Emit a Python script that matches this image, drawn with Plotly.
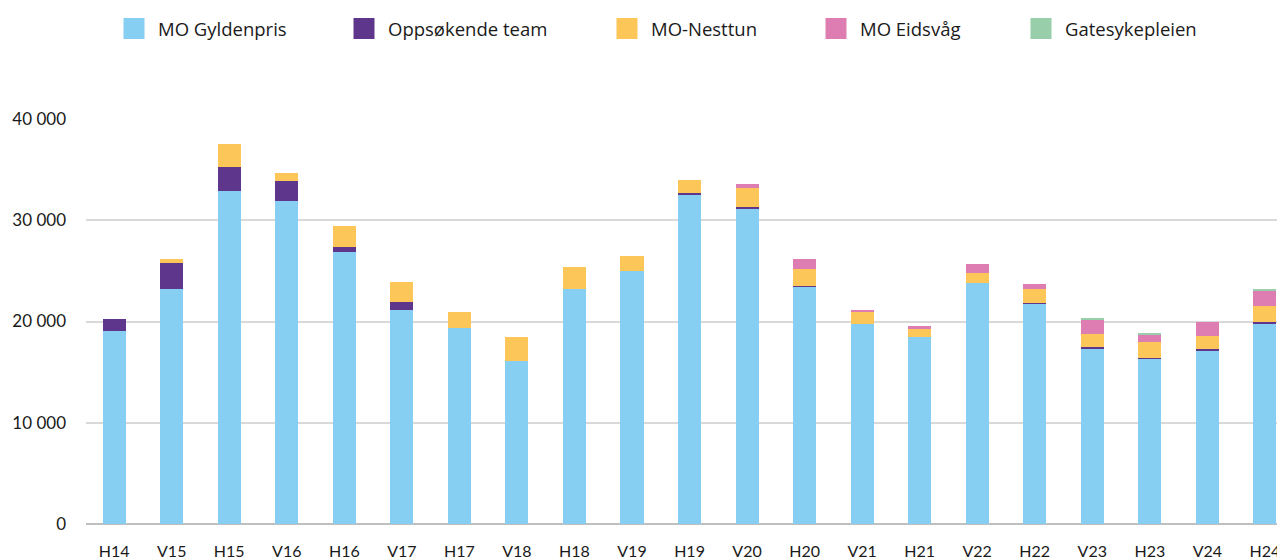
import plotly.graph_objects as go

categories = ["H14", "V15", "H15", "V16", "H16", "V17", "H17", "V18", "H18", "V19", "H19",
              "V20", "H20", "V21", "H21", "V22", "H22", "V23", "H23", "V24", "H24"]

mo_gyldenpris = [19100, 23200, 32900, 31900, 26900, 21100, 19400, 16050, 23200, 24950, 32550,
                 31200, 23450, 19800, 18500, 23800, 21750, 17300, 16300, 17100, 19800]
oppsokende_team = [1100, 2550, 2350, 2000, 500, 800, 0, 0, 0, 0, 100,
                   100, 100, 0, 0, 0, 100, 200, 130, 200, 200]
mo_nesttun = [0, 400, 2300, 800, 2000, 2000, 1550, 2450, 2150, 1550, 1350,
              1900, 1650, 1150, 800, 1000, 1400, 1300, 1550, 1300, 1500]
mo_eidsvag = [0, 0, 0, 0, 0, 0, 0, 0, 0, 0, 0,
              400, 1000, 100, 300, 900, 500, 1400, 700, 1400, 1550]
gatesykepleien = [0, 0, 0, 0, 0, 0, 0, 0, 0, 0, 0,
                  0, 0, 0, 0, 0, 0, 180, 200, 0, 100]

series_names = ["MO Gyldenpris", "Oppsøkende team", "MO-Nesttun", "MO Eidsvåg", "Gatesykepleien"]
series_values = [mo_gyldenpris, oppsokende_team, mo_nesttun, mo_eidsvag, gatesykepleien]
colors = ["#86CEF2", "#5E378C", "#FDC659", "#DD7DB2", "#98CFAA"]

y_tickvals = [0, 10000, 20000, 30000, 40000]
y_ticktext = ["0", "10 000", "20 000", "30 000", "40 000"]

# the page body adds an 8px offset around the figure
OFF = 8
W, H = 1285 - OFF, 559 - OFF
ML, MR, MT, MB = 86 - OFF, 0, 119 - OFF, 35
PW = W - ML - MR
PH = H - MT - MB

# legend swatch centres (page px) for each entry
legend_centres = [134, 364, 627, 836, 1041]
legend_keys = ["legend", "legend2", "legend3", "legend4", "legend5"]

fig = go.Figure()
for name, vals, col in zip(series_names, series_values, colors):
    fig.add_trace(go.Bar(x=categories, y=vals, name=name, marker=dict(color=col, line=dict(width=0)),
                         showlegend=False, legendgroup=name))

for name, col, key in zip(series_names, colors, legend_keys):
    fig.add_trace(go.Scatter(x=[None], y=[None], mode="markers", name=name, legendgroup=name,
                             legend=key,
                             marker=dict(symbol="square", size=16, color=col,
                                         line=dict(color=col, width=5))))

legend_font = dict(family="Open Sans", size=18.5, color="#1a1a1a")
legend_top_px = 2
for key, cx in zip(legend_keys, legend_centres):
    fig.update_layout({key: dict(
        x=(cx - OFF - 24 - ML) / PW, xanchor="left",
        y=1 + (MT - legend_top_px) / PH, yanchor="top",
        orientation="h", font=legend_font, itemwidth=38,
        bgcolor="rgba(0,0,0,0)", borderwidth=0,
        itemclick=False, itemdoubleclick=False,
    )})

fig.update_layout(
    width=W, height=H,
    margin=dict(l=ML, r=MR, t=MT, b=MB, autoexpand=False),
    barmode="stack", bargap=0.6,
    paper_bgcolor="white", plot_bgcolor="white",
    xaxis=dict(type="category", range=[-0.49, 20.35], showgrid=False, showline=False,
               zeroline=False, ticks="", tickfont=dict(family="Lato", size=16, color="#1a1a1a"),
               ticklabelstandoff=16),
    yaxis=dict(range=[0, 40000], tickvals=y_tickvals, ticktext=y_ticktext,
               showgrid=True, gridcolor="#d9d9d9", gridwidth=1.5,
               zeroline=True, zerolinecolor="#bfbfbf", zerolinewidth=1.5,
               showline=False, ticks="", ticklabelstandoff=19,
               tickfont=dict(family="Lato", size=17, color="#1a1a1a")),
)

fig.write_html("out.html")
